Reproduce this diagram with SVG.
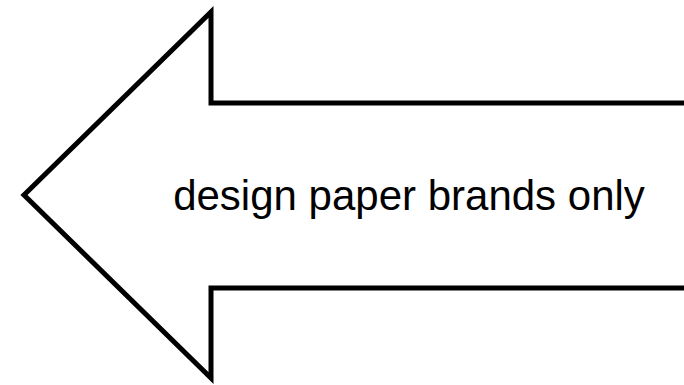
<svg xmlns="http://www.w3.org/2000/svg" width="684" height="385" viewBox="0 0 684 385">
<style>
.shape{fill:#ffffff;stroke:#000000;stroke-width:5;stroke-linejoin:miter;stroke-miterlimit:10}
.label{font-family:"Liberation Sans",Arial,sans-serif;font-size:42px;fill:#000000;text-anchor:middle}
</style>
<rect width="684" height="385" fill="#ffffff"/>
<g id="arrow">
<polygon class="shape" points="700,103 211,103 211,12 24,195 211,378 211,288 700,288"/>
<text class="label" x="409" y="210">design paper brands only</text>
</g>
<g id="connectors"></g>
</svg>
